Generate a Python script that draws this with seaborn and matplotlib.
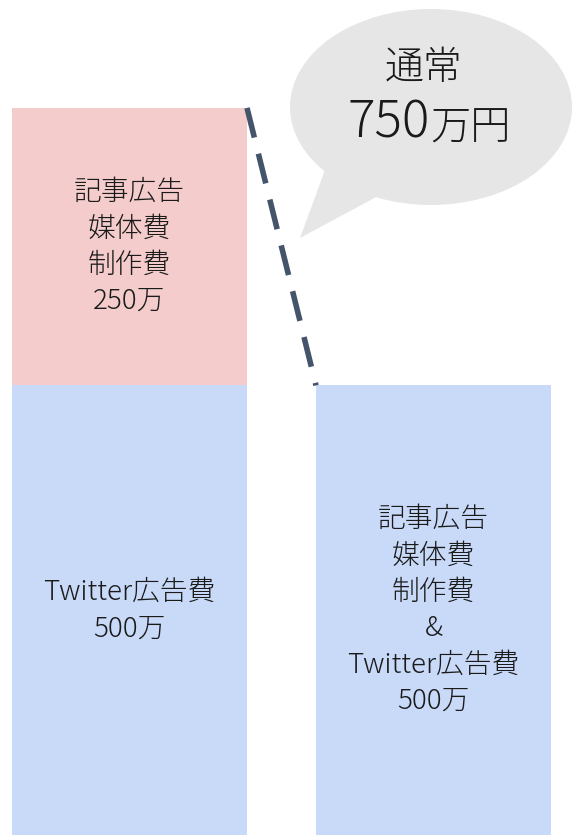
import matplotlib
matplotlib.use("Agg")
import matplotlib.pyplot as plt
import seaborn as sns
import pandas as pd
from matplotlib.patches import Ellipse, Polygon

sns.set_theme(style="white")
plt.rcParams['font.family'] = ['Noto Sans CJK JP', 'DejaVu Sans']

# Data
categories = ["通常", "施策"]
twitter_cost = [500, 500]          # bottom (blue) segment
article_cost = [250, 0]            # top (pink) segment
totals = [t + a for t, a in zip(twitter_cost, article_cost)]
bar_labels_bottom = ["Twitter広告費\n500万",
                     "記事広告\n媒体費\n制作費\n&\nTwitter広告費\n500万"]
bar_labels_top = ["記事広告\n媒体費\n制作費\n250万", ""]
bubble_title = "通常"
bubble_value = "750"
bubble_unit = "万円"

PINK = "#F4CCCC"
BLUE = "#C9DAF8"
GRAY = "#E6E6E6"
LINE = "#44546A"
TXT = "#1a1a1a"

fig = plt.figure(figsize=(5.72, 8.35), dpi=100)
ax = fig.add_axes([0, 0, 1, 1])

W = 0.773
df_tot = pd.DataFrame({"cat": categories, "val": totals})
df_bot = pd.DataFrame({"cat": categories, "val": twitter_cost})
sns.barplot(data=df_tot, x="cat", y="val", hue="cat", palette=[PINK, BLUE],
            width=W, legend=False, ax=ax, saturation=1, linewidth=0)
sns.barplot(data=df_bot, x="cat", y="val", color=BLUE, width=W,
            ax=ax, saturation=1, linewidth=0)

ax.set_xlim(-0.426, 1.4556)
ax.set_ylim(95, 847.2)
ax.axis("off")

ymin, ymax = ax.get_ylim()
lab_kw = dict(ha="center", va="center", fontsize=20, linespacing=1.38,
              color=TXT, fontweight="light")
for i, (lb, lt) in enumerate(zip(bar_labels_bottom, bar_labels_top)):
    bot_vis = max(ymin, 0)
    ax.text(i, (bot_vis + twitter_cost[i]) / 2, lb, **lab_kw)
    if article_cost[i] > 0:
        ax.text(i, twitter_cost[i] + article_cost[i] / 2, lt, **lab_kw)

# dashed connector
ax.plot([0 + W / 2, 1 - W / 2], [totals[0], totals[1]], color=LINE, lw=4,
        dashes=(5.5, 3.0), solid_capstyle="butt", dash_capstyle="butt")

# speech bubble (axes fraction coords)
tr = ax.transAxes
ell = Ellipse((431 / 572, 1 - 107 / 835), 282 / 572, 196 / 835,
              transform=tr, facecolor=GRAY, edgecolor="none", zorder=5)
ax.add_patch(ell)
tail = Polygon([(325 / 572, 1 - 170 / 835), (300 / 572, 1 - 238 / 835),
                (378 / 572, 1 - 196 / 835)], closed=True, transform=tr,
               facecolor=GRAY, edgecolor="none", zorder=5)
ax.add_patch(tail)

ax.text(424 / 572, 1 - 68 / 835, bubble_title, transform=tr, ha="center",
        va="center", fontsize=28, color=TXT, zorder=6, fontweight="light")
ax.text(430 / 572, 1 - 123 / 835, bubble_value, transform=tr, ha="right",
        va="center", fontsize=37, color=TXT, zorder=6, fontweight="light")
ax.text(430 / 572, 1 - 129 / 835, bubble_unit, transform=tr, ha="left",
        va="center", fontsize=29, color=TXT, zorder=6, fontweight="light")

fig.savefig("out.png", dpi=100, facecolor="white")
